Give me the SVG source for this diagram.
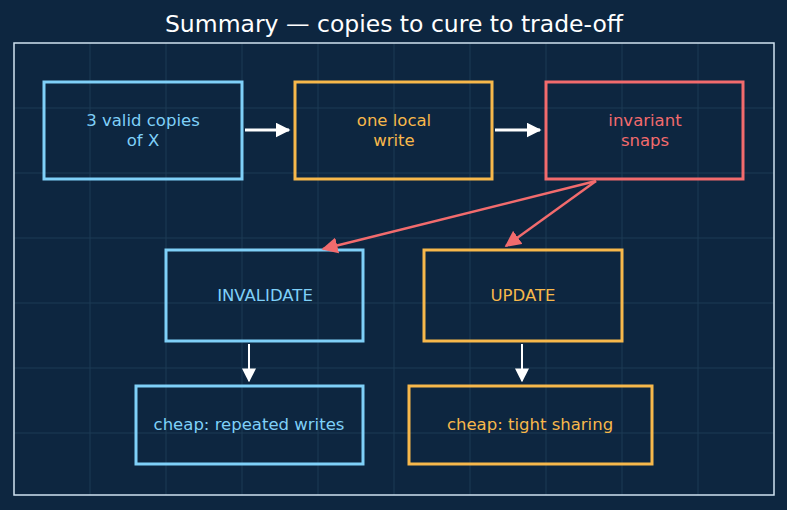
<svg xmlns="http://www.w3.org/2000/svg" width="787" height="510" viewBox="0 0 787 510">
<defs>
<style>
text{font-family:"DejaVu Sans","Liberation Sans",sans-serif;text-anchor:middle}
.t{font-size:16.5px}
.box{fill:none;stroke-width:3}
.b{stroke:#7fd0f8}.bt{fill:#7fd0f8}
.o{stroke:#f7b84b}.ot{fill:#f7b84b}
.r{stroke:#f26b6d}.rt{fill:#f26b6d}
.grid line{stroke:#1d3a55;stroke-width:1}
.w{stroke:#ffffff;stroke-width:3;fill:none}
.wt{stroke:#ffffff;stroke-width:2;fill:none}
.rl{stroke:#f26b6d;stroke-width:2.5;fill:none}
</style>
<marker id="aw" viewBox="0 0 10 10" refX="9" refY="5" markerWidth="5" markerHeight="5" markerUnits="strokeWidth" orient="auto"><path d="M0,0L10,5L0,10z" fill="#ffffff"/></marker>
<marker id="aw2" viewBox="0 0 10 10" refX="9" refY="5" markerWidth="7" markerHeight="7" markerUnits="strokeWidth" orient="auto"><path d="M0,0L10,5L0,10z" fill="#ffffff"/></marker>
<marker id="ar" viewBox="0 0 10 10" refX="9" refY="5" markerWidth="6.5" markerHeight="6.5" markerUnits="strokeWidth" orient="auto"><path d="M0,0L10,5L0,10z" fill="#f26b6d"/></marker>
</defs>
<rect width="787" height="510" fill="#0d2640"/>
<g class="grid">
<line x1="90" y1="43" x2="90" y2="495"/><line x1="166" y1="43" x2="166" y2="495"/><line x1="242" y1="43" x2="242" y2="495"/><line x1="318" y1="43" x2="318" y2="495"/><line x1="394" y1="43" x2="394" y2="495"/><line x1="470" y1="43" x2="470" y2="495"/><line x1="546" y1="43" x2="546" y2="495"/><line x1="622" y1="43" x2="622" y2="495"/><line x1="698" y1="43" x2="698" y2="495"/>
<line x1="14" y1="108" x2="774" y2="108"/><line x1="14" y1="173" x2="774" y2="173"/><line x1="14" y1="238" x2="774" y2="238"/><line x1="14" y1="303" x2="774" y2="303"/><line x1="14" y1="368" x2="774" y2="368"/><line x1="14" y1="433" x2="774" y2="433"/>
</g>
<rect x="14" y="43" width="760" height="452" fill="none" stroke="#cfe2f0" stroke-width="1.5"/>
<text x="394" y="32" font-size="23.5" fill="#ffffff">Summary — copies to cure to trade-off</text>
<g id="n1"><rect class="box b" x="44" y="82" width="198" height="97"/><text class="t bt" x="143" y="126">3 valid copies</text><text class="t bt" x="143" y="146">of X</text></g>
<g id="n2"><rect class="box o" x="295" y="82" width="197" height="97"/><text class="t ot" x="394" y="126">one local</text><text class="t ot" x="394" y="146">write</text></g>
<g id="n3"><rect class="box r" x="546" y="82" width="197" height="97"/><text class="t rt" x="645" y="126">invariant</text><text class="t rt" x="645" y="146">snaps</text></g>
<g id="n4"><rect class="box b" x="166" y="250" width="197" height="91"/><text class="t bt" x="265" y="301">INVALIDATE</text></g>
<g id="n5"><rect class="box o" x="424" y="250" width="198" height="91"/><text class="t ot" x="523" y="301">UPDATE</text></g>
<g id="n6"><rect class="box b" x="136" y="386" width="227" height="78"/><text class="t bt" x="249" y="430">cheap: repeated writes</text></g>
<g id="n7"><rect class="box o" x="409" y="386" width="243" height="78"/><text class="t ot" x="530" y="430">cheap: tight sharing</text></g>
<g id="edges">
<path class="w" d="M245,130H289" marker-end="url(#aw)"/>
<path class="w" d="M495,130H540" marker-end="url(#aw)"/>
<path class="rl" d="M596,181L323,249" marker-end="url(#ar)"/>
<path class="rl" d="M596,181L506,246" marker-end="url(#ar)"/>
<path class="wt" d="M249,344V381" marker-end="url(#aw2)"/>
<path class="wt" d="M522,344V381" marker-end="url(#aw2)"/>
</g>
</svg>
